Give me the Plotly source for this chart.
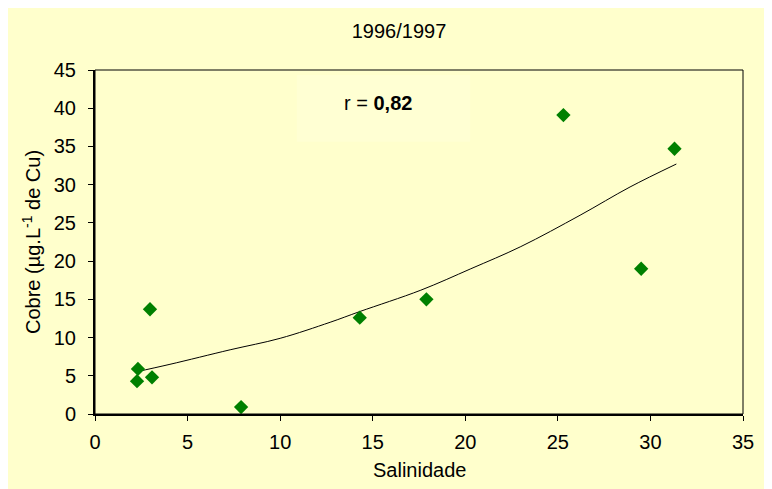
import plotly.graph_objects as go

# measured points
salinidade = [2.27, 2.32, 2.97, 3.08, 7.89, 14.3, 17.9, 25.3, 29.5, 31.3]
cobre = [4.3, 5.9, 13.7, 4.8, 0.9, 12.6, 15.0, 39.1, 19.0, 34.7]

# trend line
trend_x = [2.2, 4.05, 7.3, 10.0, 12.7, 14.3, 17.6, 20.3, 23.0, 26.2, 28.9, 31.4]
trend_y = [5.5, 6.5, 8.4, 9.9, 12.0, 13.4, 16.2, 19.0, 21.9, 26.0, 29.7, 32.7]

x_ticks = [0, 5, 10, 15, 20, 25, 30, 35]
y_ticks = [0, 5, 10, 15, 20, 25, 30, 35, 40, 45]

bg = "#FFFFCC"
font = "Liberation Sans, Arial, sans-serif"

fig = go.Figure()
fig.add_trace(go.Scatter(x=trend_x, y=trend_y, mode="lines",
                         line=dict(color="black", width=1, shape="spline"),
                         hoverinfo="skip"))
fig.add_trace(go.Scatter(x=salinidade, y=cobre, mode="markers",
                         marker=dict(symbol="diamond", size=11, color="#008000")))

fig.update_layout(
    width=772, height=489,
    margin=dict(l=87, r=37, t=62, b=83),
    paper_bgcolor=bg, plot_bgcolor=bg,
    showlegend=False,
    font=dict(family=font, size=20, color="black"),
    title=dict(text="1996/1997", x=391 / 772, xanchor="center",
               y=1 - 23 / 489, yanchor="middle", font=dict(size=20)),
)

fig.update_xaxes(range=[0, 35], tickvals=x_ticks, showgrid=False, zeroline=False,
                 showline=True, linecolor="black", linewidth=2,
                 ticks="outside", ticklen=5, tickcolor="black", ticklabelstandoff=4)
fig.update_yaxes(range=[0, 45], tickvals=y_ticks, showgrid=False, zeroline=False,
                 showline=True, linecolor="black", linewidth=2,
                 ticks="outside", ticklen=5, tickcolor="black", ticklabelstandoff=8)

# axis titles
fig.add_annotation(text="Salinidade", xref="paper", yref="paper",
                   x=0.5, y=-56 / 344, xanchor="center", yanchor="middle",
                   showarrow=False)
fig.add_annotation(text="Cobre (µg.L<sup>-1</sup> de Cu)", xref="paper", yref="paper",
                   x=-64 / 648, y=0.5, xanchor="center", yanchor="middle",
                   textangle=-90, showarrow=False)

# thin frame round the plot area
fig.add_shape(type="rect", xref="paper", yref="paper", x0=0, x1=1, y0=0, y1=1,
              line=dict(color="black", width=1), fillcolor="rgba(0,0,0,0)")

# faint box behind the r value
fig.add_shape(type="rect", xref="x", yref="y", x0=10.9, x1=20.26, y0=35.6, y1=44.35,
              line=dict(width=0), fillcolor="#FFFFD3", layer="below")
fig.add_annotation(x=15.29, y=40.7, xref="x", yref="y",
                   text="r = <b>0,82</b>", showarrow=False, font=dict(size=20))

fig.write_html("out.html")
